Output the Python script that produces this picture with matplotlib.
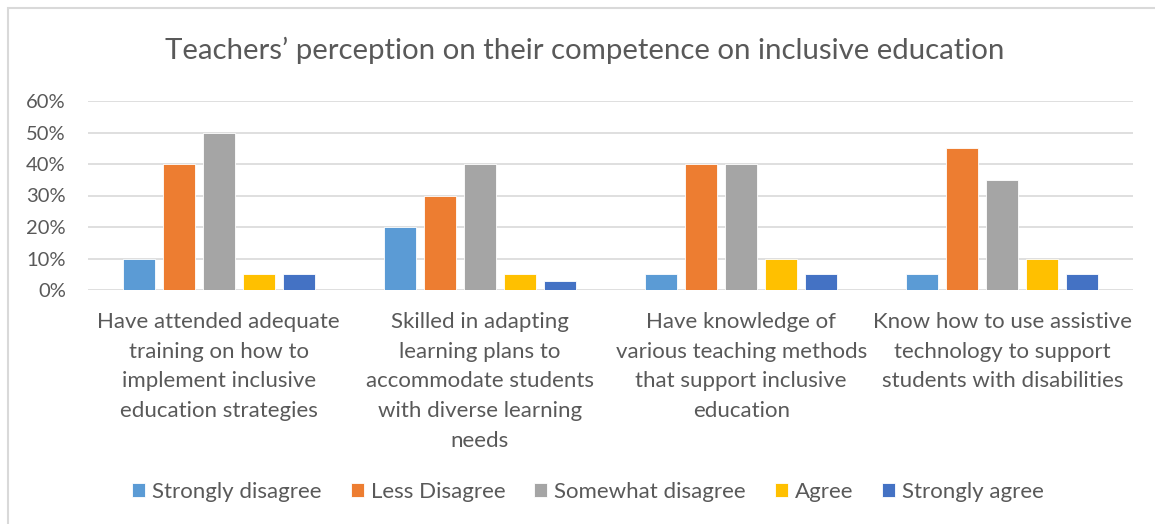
import numpy as np
import matplotlib.pyplot as plt
from matplotlib.patches import Rectangle
from matplotlib.ticker import PercentFormatter

plt.rcParams['font.family'] = ['Lato', 'DejaVu Sans']

categories = [
    'Have attended adequate\ntraining on how to\nimplement inclusive\neducation strategies',
    'Skilled in adapting\nlearning plans to\naccommodate students\nwith diverse learning\nneeds',
    'Have knowledge of\nvarious teaching methods\nthat support inclusive\neducation',
    'Know how to use assistive\ntechnology to support\nstudents with disabilities',
]
series_names = ['Strongly disagree', 'Less Disagree', 'Somewhat disagree', 'Agree', 'Strongly agree']
strongly_disagree = [10, 20, 5, 5]
less_disagree = [40, 30, 40, 45]
somewhat_disagree = [50, 40, 40, 35]
agree = [5, 5, 10, 10]
strongly_agree = [5, 3, 5, 5]
colors = ['#5B9BD5', '#ED7D31', '#A5A5A5', '#FFC000', '#4472C4']

text_col = '#595959'
W, H = 1155, 524
fig = plt.figure(figsize=(W / 100, H / 100), dpi=100)
ax = fig.add_axes([88 / W, 1 - 290 / H, (1133 - 88) / W, (290 - 101) / H])

# outer chart frame (only top and left edges show)
fig.add_artist(Rectangle((8 / W, -0.1), 1.2, 1 - 8 / H + 0.1, transform=fig.transFigure,
                         fill=False, edgecolor='#D9D9D9', linewidth=1.5))

x = np.arange(len(categories))
slot = 40 / 261
width = 32 / 261
all_series = [strongly_disagree, less_disagree, somewhat_disagree, agree, strongly_agree]
for i, (name, vals, c) in enumerate(zip(series_names, all_series, colors)):
    ax.bar(x + (i - 2) * slot, vals, width, color=c, label=name, zorder=3,
           edgecolor='white', linewidth=0.6)

ax.set_xlim(-0.5, len(categories) - 0.5)
ax.set_ylim(0, 60)
ax.set_yticks(range(0, 61, 10))
ax.yaxis.set_major_formatter(PercentFormatter(decimals=0))
ax.grid(axis='y', color='#D9D9D9', linewidth=1.2, zorder=0)
for s in ax.spines.values():
    s.set_visible(False)
ax.tick_params(axis='y', length=0, labelsize=14.5, labelcolor=text_col, pad=16)
ax.set_xticks(x)
ax.set_xticklabels(categories, fontsize=16, color=text_col, linespacing=1.6)
ax.tick_params(axis='x', length=0, pad=16)

fig.text(585 / W, 1 - 50 / H, 'Teachers\u2019 perception on their competence on inclusive education',
         ha='center', va='center', fontsize=21.2, color=text_col)

fig.legend(loc='center', bbox_to_anchor=(588 / W, 1 - 492 / H), ncol=5, frameon=False,
           fontsize=16, labelcolor=text_col, handlelength=0.6, handleheight=0.6,
           handletextpad=0.3, columnspacing=1.3)

fig.savefig('out.png', dpi=100, facecolor='white')
